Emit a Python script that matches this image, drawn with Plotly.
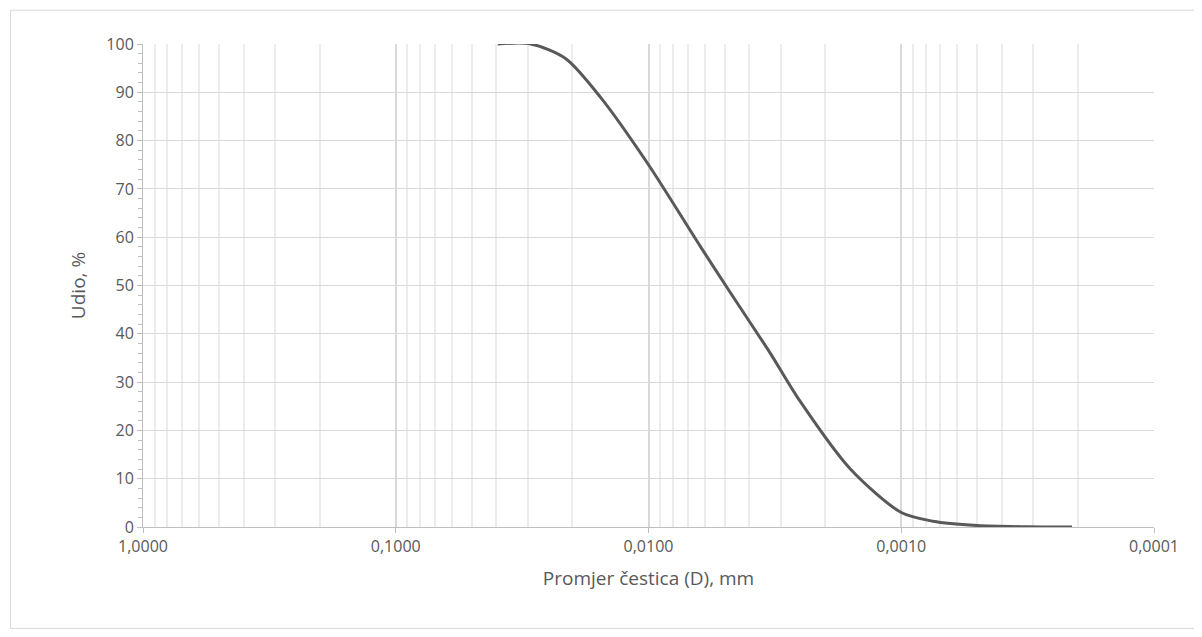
import plotly.graph_objects as go

diam = [0.0395, 0.0292, 0.0213, 0.0155, 0.0100, 0.00622, 0.00474, 0.0033, 0.00251, 0.00159, 0.0010, 0.00075, 0.00050, 0.00032, 0.000211]
udio = [100, 100, 97, 89, 75, 58, 48.5, 36, 26, 12, 3, 1.2, 0.3, 0.05, 0]
xtick_vals = [1, 0.1, 0.01, 0.001, 0.0001]
xtick_text = ["1,0000", "0,1000", "0,0100", "0,0010", "0,0001"]

fig = go.Figure(go.Scatter(x=diam, y=udio, mode="lines",
                           line=dict(color="#595959", width=3, shape="spline", smoothing=0.8)))
grid = "#d9d9d9"
fig.update_layout(
    width=1202, height=637, plot_bgcolor="white", paper_bgcolor="white",
    margin=dict(l=135, r=56, t=36, b=118), showlegend=False,
    font=dict(family="Open Sans, Liberation Sans, sans-serif", size=16, color="#595959"),
    xaxis=dict(type="log", range=[0, -4], tickvals=xtick_vals, ticktext=xtick_text, automargin=False,
               showgrid=True, gridcolor=grid, gridwidth=1.5, zeroline=False,
               minor=dict(showgrid=True, gridcolor="#ececec", dtick="D1"),
               showline=True, linecolor="#bfbfbf", ticks="outside", tickcolor="#bfbfbf",
               title=dict(text="Promjer čestica (D), mm", standoff=15)),
    yaxis=dict(range=[0, 100], dtick=10, showgrid=True, gridcolor=grid, zeroline=False, automargin=False,
               showline=True, linecolor="#bfbfbf", ticks="outside", tickcolor="#bfbfbf",
               minor=dict(dtick=2, ticks="outside", tickcolor="#bfbfbf", ticklen=4, showgrid=False),
               title=dict(text="Udio, %", standoff=15)),
    shapes=[dict(type="rect", xref="paper", yref="paper", x0=-0.131, x1=1.04, y0=-0.21, y1=1.07,
                 line=dict(color="#d9d9d9", width=1))],
)
fig.write_html("out.html")
